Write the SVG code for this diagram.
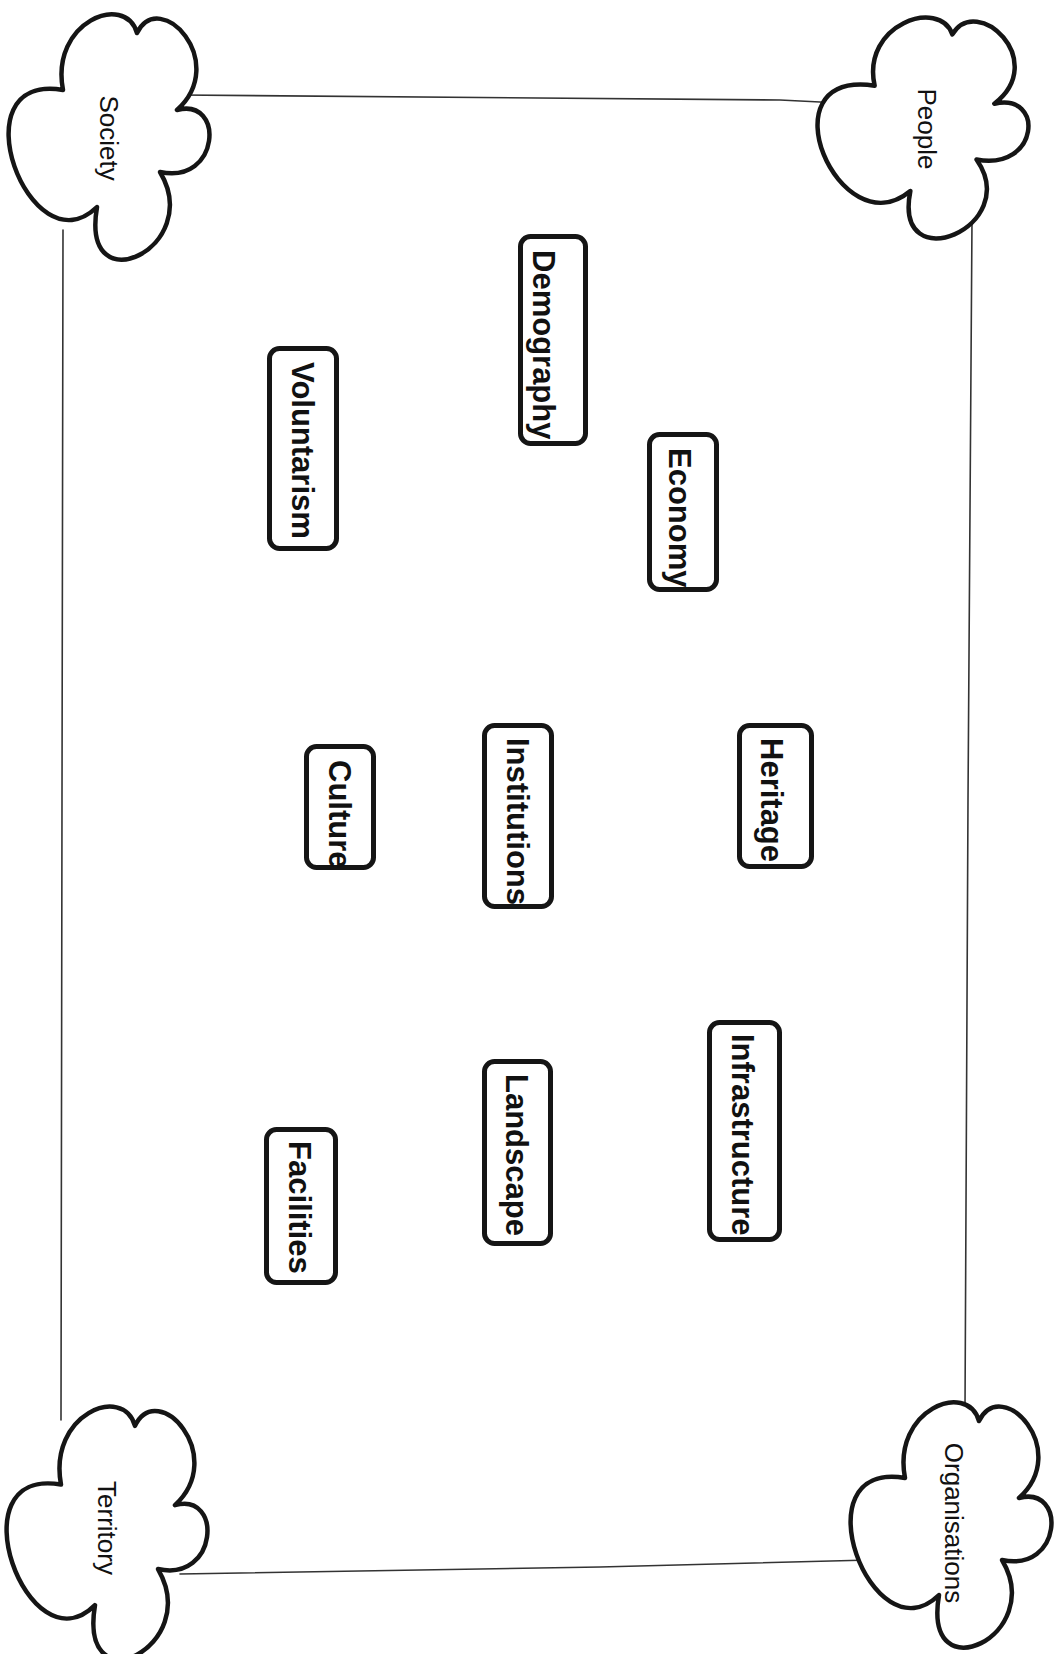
<svg xmlns="http://www.w3.org/2000/svg" width="1055" height="1654" viewBox="0 0 1055 1654">
  <style>
    .frame { fill: none; stroke: #333; stroke-width: 1.6; stroke-linecap: round; }
    .cloud { fill: #fff; stroke: #151515; stroke-width: 4.5; stroke-linejoin: round; }
    .cloud-label { font-family: "Liberation Sans", Arial, sans-serif; font-size: 26px; fill: #111; text-anchor: middle; }
    .box rect { fill: #fff; stroke: #151515; stroke-width: 5; }
    .box text { font-family: "Liberation Sans", Arial, sans-serif; font-weight: bold; font-size: 31px; fill: #111; }
  </style>
  <defs>
    <!-- five-lobed cloud outline, centred on the origin -->
    <path id="cloud" vector-effect="non-scaling-stroke"
          d="M-47,-47 C-60,-115 15,-145 27,-104 C50,-150 120,-75 67,-27 C115,-40 110,48 50,35 C95,110 -30,170 -13,70 C-80,135 -155,-65 -47,-47 Z"/>
  </defs>

  <rect width="1055" height="1654" fill="#fff"/>

  <!-- frame joining the four corner clouds -->
  <g id="connectors">
    <polyline class="frame" points="180,95 780,100 860,104"/>
    <polyline class="frame" points="972,220 968,800 965,1410"/>
    <polyline class="frame" points="180,1574 600,1567 870,1560"/>
    <polyline class="frame" points="63,230 62,800 61,1420"/>
  </g>

  <!-- corner clouds -->
  <g id="cloud-society">
    <use href="#cloud" class="cloud" transform="translate(110 137)"/>
    <text class="cloud-label" transform="translate(100 138) rotate(90)">Society</text>
  </g>
  <g id="cloud-people">
    <use href="#cloud" class="cloud" transform="translate(924 128) scale(1.05 0.9)"/>
    <text class="cloud-label" transform="translate(918 129) rotate(90)">People</text>
  </g>
  <g id="cloud-territory">
    <use href="#cloud" class="cloud" transform="translate(108 1533) scale(1 1.03)"/>
    <text class="cloud-label" transform="translate(98 1528) rotate(90)">Territory</text>
  </g>
  <g id="cloud-organisations">
    <use href="#cloud" class="cloud" transform="translate(952 1525)"/>
    <text class="cloud-label" transform="translate(945 1523) rotate(90)">Organisations</text>
  </g>

  <!-- topic boxes -->
  <g id="node-demography" class="box">
    <rect x="520.5" y="236.5" width="65" height="207" rx="10"/>
    <text transform="translate(533 250) rotate(90)">Demography</text>
  </g>
  <g id="node-voluntarism" class="box">
    <rect x="269.5" y="348.5" width="67" height="200" rx="10"/>
    <text transform="translate(292 362) rotate(90)">Voluntarism</text>
  </g>
  <g id="node-economy" class="box">
    <rect x="649.5" y="434.5" width="67" height="155" rx="10"/>
    <text transform="translate(669 448) rotate(90)">Economy</text>
  </g>
  <g id="node-culture" class="box">
    <rect x="306.5" y="746.5" width="67" height="121" rx="10"/>
    <text transform="translate(329 760) rotate(90)">Culture</text>
  </g>
  <g id="node-institutions" class="box">
    <rect x="484.5" y="725.5" width="67" height="181" rx="10"/>
    <text transform="translate(507 738) rotate(90)">Institutions</text>
  </g>
  <g id="node-heritage" class="box">
    <rect x="739.5" y="725.5" width="72" height="141" rx="10"/>
    <text transform="translate(761 738) rotate(90)">Heritage</text>
  </g>
  <g id="node-infrastructure" class="box">
    <rect x="709.5" y="1022.5" width="70" height="217" rx="10"/>
    <text transform="translate(732 1034) rotate(90)">Infrastructure</text>
  </g>
  <g id="node-landscape" class="box">
    <rect x="484.5" y="1061.5" width="66" height="182" rx="10"/>
    <text transform="translate(506 1074) rotate(90)">Landscape</text>
  </g>
  <g id="node-facilities" class="box">
    <rect x="266.5" y="1129.5" width="69" height="153" rx="10"/>
    <text transform="translate(289 1141) rotate(90)">Facilities</text>
  </g>
</svg>
